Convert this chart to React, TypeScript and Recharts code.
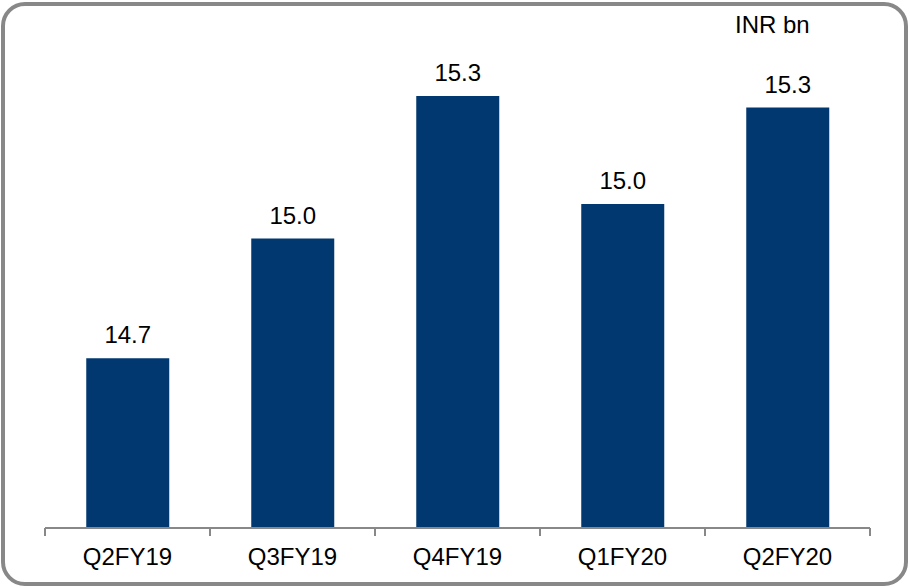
import React from 'react';
import { BarChart, Bar, XAxis, YAxis, LabelList } from 'recharts';

const quarters = ['Q2FY19', 'Q3FY19', 'Q4FY19', 'Q1FY20', 'Q2FY20'];
const revenue = [14.71, 14.97, 15.28, 15.045, 15.255];
const unitLabel = 'INR bn';

const data = quarters.map((q, i) => ({ quarter: q, value: revenue[i] }));

const FONT = '"Liberation Sans", Arial, sans-serif';
const AXIS_GRAY = '#888888';

// tick label plus a tick mark on the category boundary (not the centre)
function BoundaryTick(props: any) {
  const { x, y, payload, index, width, visibleTicksCount } = props;
  const band = width / visibleTicksCount;
  const left = x - band / 2;
  const top = y - 12;
  return (
    <g>
      <line x1={left} y1={top - 8} x2={left} y2={top} stroke={AXIS_GRAY} strokeWidth={2} />
      {index === visibleTicksCount - 1 && (
        <line x1={left + band} y1={top - 8} x2={left + band} y2={top} stroke={AXIS_GRAY} strokeWidth={2} />
      )}
      <text x={x} y={y} dy="0.71em" textAnchor="middle" fill="#000" fontSize={24} fontFamily={FONT}>
        {payload.value}
      </text>
    </g>
  );
}

export default function App() {
  return (
    <div style={{ position: 'absolute', left: 0, top: 0, width: 910, height: 588, background: '#fff' }}>
      <div
        style={{
          position: 'absolute',
          left: 1,
          top: 2,
          width: 907,
          height: 584,
          boxSizing: 'border-box',
          border: `4px solid ${AXIS_GRAY}`,
          borderRadius: 24,
        }}
      />
      <div
        style={{
          position: 'absolute',
          left: 735,
          top: 12,
          fontFamily: FONT,
          fontSize: 24,
          color: '#000',
          lineHeight: '26px',
        }}
      >
        {unitLabel}
      </div>
      <BarChart
        width={910}
        height={588}
        data={data}
        margin={{ top: 50, right: 40, bottom: 0, left: 45 }}
        barCategoryGap="25%"
      >
        <XAxis
          dataKey="quarter"
          height={60}
          axisLine={{ stroke: AXIS_GRAY, strokeWidth: 2 }}
          tickLine={false}
          tickSize={0}
          tickMargin={20}
          tick={<BoundaryTick />}
          interval={0}
        />
        <YAxis hide domain={[14.341, 15.38]} allowDataOverflow />
        <Bar dataKey="value" fill="#00386F" isAnimationActive={false}>
          <LabelList
            dataKey="value"
            position="top"
            offset={15}
            formatter={(v: any) => Number(v).toFixed(1)}
            style={{ fontSize: 24, fontFamily: FONT, fill: '#000' }}
          />
        </Bar>
      </BarChart>
    </div>
  );
}
